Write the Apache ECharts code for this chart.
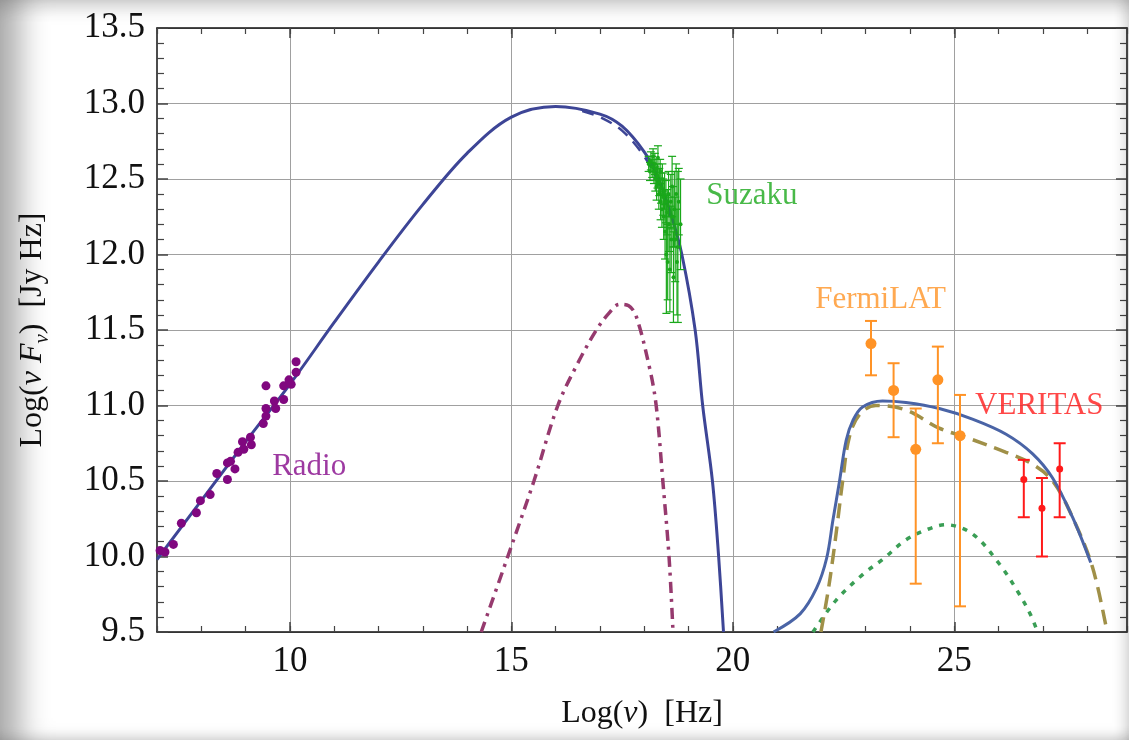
<!DOCTYPE html>
<html>
<head>
<meta charset="utf-8">
<script src="https://cdn.jsdelivr.net/npm/echarts@6.0.0/dist/echarts.min.js"></script>
<style>
  html, body { margin: 0; padding: 0; background: #fff; }
  #wrap { position: relative; width: 1129px; height: 740px; }
  #chart { width: 1129px; height: 740px; }
  #shade {
    position: absolute; left: 0; top: 0; width: 1129px; height: 740px; pointer-events: none;
    box-shadow: inset 34px 0 30px -14px rgba(0,0,0,0.33), inset 0 18px 18px -10px rgba(0,0,0,0.16),
                inset -12px 0 14px -8px rgba(0,0,0,0.18), inset 0 -12px 12px -8px rgba(0,0,0,0.12);
  }
</style>
</head>
<body>
<div id="wrap"><div id="chart"></div><div id="shade"></div></div>
<script>
// ---- axes ----
var xMajor = [10, 15, 20, 25];

// ---- model curves ----
// synchrotron + total (solid blue)
var syncX = [7, 8, 9, 10, 11, 12, 13, 14, 15, 16, 17, 17.5, 18, 18.3, 18.6, 18.85, 19.15, 19.32, 19.54, 19.68, 19.79];
var syncY = [9.98, 10.37, 10.76, 11.14, 11.55, 11.95, 12.33, 12.67, 12.91, 12.98, 12.93, 12.85, 12.68, 12.52, 12.27, 12.0, 11.5, 11.0, 10.5, 10.0, 9.5];
// synchrotron component (dashed, nearly on top of the total)
var syncDashX = [16.6, 17, 17.5, 18, 18.3, 18.6];
var syncDashY = [12.95, 12.91, 12.82, 12.65, 12.49, 12.25];
// dash-dot bump
var bumpX = [14.32, 14.92, 15.51, 16.05, 16.5, 16.92, 17.2, 17.44, 17.65, 17.82, 18.12, 18.27, 18.42, 18.56, 18.65];
var bumpY = [9.5, 10.0, 10.5, 11.0, 11.28, 11.5, 11.61, 11.67, 11.66, 11.59, 11.25, 11.0, 10.5, 10.0, 9.5];
// inverse compton total (solid blue)
var icX = [20.92, 21.52, 21.89, 22.12, 22.26, 22.41, 22.56, 22.71, 22.93, 23.38, 23.91, 24.66, 25.41, 26.17, 26.77, 27.22, 27.67, 28.08];
var icY = [9.5, 9.62, 9.79, 9.99, 10.24, 10.5, 10.77, 10.9, 10.99, 11.03, 11.02, 10.98, 10.91, 10.81, 10.68, 10.52, 10.26, 9.96];
// IC component (olive dashed)
var ic2X = [21.99, 22.14, 22.26, 22.37, 22.48, 22.63, 22.86, 23.23, 23.91, 24.66, 25.26, 26.17, 26.77, 27.22, 27.67, 28.12, 28.45];
var ic2Y = [9.5, 9.75, 9.99, 10.24, 10.5, 10.79, 10.94, 11.0, 10.97, 10.85, 10.79, 10.69, 10.61, 10.5, 10.26, 9.93, 9.5];
// IC component (green dotted)
var ic3X = [21.81, 22.33, 22.93, 23.38, 23.91, 24.4, 24.81, 25.41, 26.02, 26.47, 26.73, 26.88];
var ic3Y = [9.5, 9.71, 9.88, 9.98, 10.11, 10.18, 10.21, 10.15, 9.95, 9.75, 9.61, 9.5];

// ---- data points ----
var radioX = [7.07, 7.18, 7.37, 7.55, 7.89, 7.98, 8.2, 8.35, 8.59, 8.59, 8.66, 8.76, 8.83, 8.93, 8.96, 9.11, 9.13, 9.4, 9.46, 9.46, 9.46, 9.65, 9.68, 9.86, 9.86, 9.98, 10.03, 10.14, 10.14];
var radioY = [10.04, 10.03, 10.08, 10.22, 10.29, 10.37, 10.41, 10.55, 10.51, 10.62, 10.63, 10.58, 10.69, 10.76, 10.71, 10.79, 10.74, 10.88, 10.93, 10.98, 11.13, 11.03, 10.98, 11.04, 11.13, 11.17, 11.14, 11.22, 11.29];

var suzakuX = [18.1, 18.13, 18.15, 18.18, 18.2, 18.22, 18.24, 18.25, 18.27, 18.28, 18.3, 18.31, 18.33, 18.34, 18.36, 18.37, 18.38, 18.4, 18.41, 18.43, 18.44, 18.46, 18.47, 18.49, 18.5, 18.52, 18.53, 18.55, 18.56, 18.58, 18.6, 18.61, 18.63, 18.65, 18.66, 18.68, 18.7, 18.72, 18.74, 18.76, 18.78, 18.82];
var suzakuY = [12.6, 12.55, 12.62, 12.58, 12.65, 12.55, 12.6, 12.5, 12.57, 12.45, 12.52, 12.64, 12.4, 12.48, 12.55, 12.35, 12.44, 12.3, 12.5, 12.38, 12.25, 12.42, 12.15, 12.35, 12.0, 12.28, 11.95, 12.4, 12.2, 11.9, 12.35, 12.1, 12.45, 12.25, 11.85, 12.3, 12.1, 12.4, 11.95, 12.05, 12.35, 12.2];
var suzakuErr = [0.05, 0.06, 0.06, 0.07, 0.05, 0.08, 0.07, 0.08, 0.06, 0.09, 0.08, 0.08, 0.1, 0.09, 0.08, 0.12, 0.1, 0.12, 0.1, 0.12, 0.15, 0.12, 0.18, 0.14, 0.39, 0.15, 0.25, 0.15, 0.18, 0.28, 0.18, 0.22, 0.2, 0.2, 0.3, 0.25, 0.28, 0.2, 0.35, 0.5, 0.22, 0.3];

var fermiX = [23.12, 23.63, 24.13, 24.63, 25.13];
var fermiY = [11.41, 11.1, 10.71, 11.17, 10.8];
var fermiLo = [11.2, 10.79, 9.82, 10.75, 9.67];
var fermiHi = [11.56, 11.28, 10.98, 11.39, 11.07];

var veritasX = [26.57, 26.98, 27.38];
var veritasY = [10.51, 10.32, 10.58];
var veritasLo = [10.26, 10.0, 10.26];
var veritasHi = [10.64, 10.52, 10.75];

var SERIF = '"Liberation Serif", "DejaVu Serif", serif';

function zip(xs, ys) {
    var out = [];
    for (var i = 0; i < xs.length; i++) out.push([xs[i], ys[i]]);
    return out;
}
function errData(xs, ys, lo, hi) {
    var out = [];
    for (var i = 0; i < xs.length; i++) out.push([xs[i], ys[i], lo[i], hi[i]]);
    return out;
}
var suzakuLo = [], suzakuHi = [];
for (var i = 0; i < suzakuX.length; i++) {
    suzakuLo.push(suzakuY[i] - suzakuErr[i]);
    suzakuHi.push(suzakuY[i] + suzakuErr[i]);
}

function errBars(color, cap, width) {
    return function (params, api) {
        var x = api.value(0);
        var top = api.coord([x, api.value(3)]);
        var bot = api.coord([x, api.value(2)]);
        var st = { stroke: color, lineWidth: width };
        return {
            type: 'group',
            children: [
                { type: 'line', shape: { x1: top[0], y1: top[1], x2: bot[0], y2: bot[1] }, style: st },
                { type: 'line', shape: { x1: top[0] - cap, y1: top[1], x2: top[0] + cap, y2: top[1] }, style: st },
                { type: 'line', shape: { x1: bot[0] - cap, y1: bot[1], x2: bot[0] + cap, y2: bot[1] }, style: st }
            ]
        };
    };
}

function curve(name, xs, ys, color, width, type) {
    return {
        name: name, type: 'line', data: zip(xs, ys), smooth: 0.35, symbol: 'none', clip: true,
        lineStyle: { color: color, width: width, type: type || 'solid' }, z: 3
    };
}

function textMark(text, x, y, color) {
    return {
        type: 'scatter', data: [[x, y]], symbolSize: 0, silent: true, z: 10,
        label: {
            show: true, position: 'right', distance: 0, formatter: text,
            color: color, fontFamily: SERIF, fontSize: 31
        }
    };
}

var lineCol = '#111';
var gridCol = '#a0a0a0';
var chart = echarts.init(document.getElementById('chart'));

var option = {
    backgroundColor: 'transparent',
    animation: false,
    grid: { left: 157, right: 2, top: 28, bottom: 108 },
    xAxis: [{
        type: 'value', min: 7, max: 28.9, position: 'bottom',
        axisLine: { show: true, lineStyle: { color: lineCol, width: 1.5 } },
        axisTick: { show: true, inside: true, length: 10, customValues: xMajor, lineStyle: { color: '#444', width: 1.5 } },
        axisLabel: { show: true, customValues: xMajor, margin: 12, color: '#111', fontFamily: SERIF, fontSize: 35 },
        splitLine: { show: true, lineStyle: { color: gridCol, width: 1 } },
        name: '{a|Log(}{i|ν}{a|)  [Hz]}', nameLocation: 'middle', nameGap: 66,
        nameTextStyle: { rich: {
            a: { fontFamily: SERIF, fontSize: 32, color: '#111' },
            i: { fontFamily: SERIF, fontSize: 32, color: '#111', fontStyle: 'italic' }
        } }
    }, {
        type: 'value', min: 7, max: 28.9, interval: 1, position: 'bottom',
        axisLine: { show: false },
        axisTick: { show: true, inside: true, length: 6, lineStyle: { color: '#444', width: 1.2 } },
        axisLabel: { show: false }, splitLine: { show: false }
    }, {
        type: 'value', min: 7, max: 28.9, interval: 1, position: 'top',
        axisLine: { show: true, lineStyle: { color: lineCol, width: 1.5 } },
        axisTick: { show: true, inside: true, length: 6, lineStyle: { color: '#444', width: 1.2 } },
        axisLabel: { show: false }, splitLine: { show: false }
    }, {
        type: 'value', min: 7, max: 28.9, position: 'top',
        axisLine: { show: false },
        axisTick: { show: true, inside: true, length: 10, customValues: xMajor, lineStyle: { color: '#444', width: 1.5 } },
        axisLabel: { show: false }, splitLine: { show: false }
    }],
    yAxis: [{
        type: 'value', min: 9.5, max: 13.5, interval: 0.5, position: 'left',
        axisLine: { show: true, lineStyle: { color: lineCol, width: 1.5 } },
        axisTick: { show: true, inside: true, length: 11, lineStyle: { color: '#444', width: 1.5 } },
        minorTick: { show: true, splitNumber: 5, length: 7, lineStyle: { color: '#444', width: 1.2 } },
        axisLabel: {
            margin: 12, color: '#111', fontFamily: SERIF, fontSize: 35,
            formatter: function (v) { return v.toFixed(1); }
        },
        splitLine: { show: true, lineStyle: { color: gridCol, width: 1 } },
        name: '{a|Log(}{i|ν F}{s|ν}{a|)  [Jy Hz]}', nameLocation: 'middle', nameGap: 104, nameRotate: 90,
        nameTextStyle: { rich: {
            a: { fontFamily: SERIF, fontSize: 32, color: '#111', lineHeight: 40 },
            i: { fontFamily: SERIF, fontSize: 32, color: '#111', fontStyle: 'italic', lineHeight: 40 },
            s: { fontFamily: SERIF, fontSize: 21, color: '#111', fontStyle: 'italic', lineHeight: 40, verticalAlign: 'bottom', padding: [12, 0, 0, 0] }
        } }
    }, {
        type: 'value', min: 9.5, max: 13.5, interval: 0.5, position: 'right',
        axisLine: { show: true, lineStyle: { color: lineCol, width: 1.5 } },
        axisTick: { show: true, inside: true, length: 11, lineStyle: { color: '#444', width: 1.5 } },
        minorTick: { show: true, splitNumber: 5, length: 7, lineStyle: { color: '#444', width: 1.2 } },
        axisLabel: { show: false }, splitLine: { show: false }
    }],
    series: [
        curve('bump', bumpX, bumpY, '#963a6e', 3.5, [11, 6, 3, 6]),
        curve('ic3', ic3X, ic3Y, '#3a9e55', 3.5, [5, 7]),
        curve('ic2', ic2X, ic2Y, '#a09048', 3.5, [15, 8]),
        curve('ic', icX, icY, '#4a64a6', 3),
        curve('syncDash', syncDashX, syncDashY, '#3d4596', 2.5, [12, 8]),
        curve('sync', syncX, syncY, '#3d4596', 3),
        {
            name: 'suzakuErr', type: 'custom', renderItem: errBars('#1aa81a', 4, 1.2),
            data: errData(suzakuX, suzakuY, suzakuLo, suzakuHi), z: 4
        },
        {
            name: 'suzaku', type: 'scatter', data: zip(suzakuX, suzakuY), symbolSize: 4,
            itemStyle: { color: '#1aa81a', opacity: 1 }, z: 4
        },
        {
            name: 'radio', type: 'scatter', data: zip(radioX, radioY), symbolSize: 9,
            itemStyle: { color: '#80077f', opacity: 1 }, z: 4
        },
        {
            name: 'fermiErr', type: 'custom', renderItem: errBars('#ff9326', 6, 2),
            data: errData(fermiX, fermiY, fermiLo, fermiHi), z: 5
        },
        {
            name: 'fermi', type: 'scatter', data: zip(fermiX, fermiY), symbolSize: 11,
            itemStyle: { color: '#ff9326', opacity: 1 }, z: 5
        },
        {
            name: 'veritasErr', type: 'custom', renderItem: errBars('#ff1a1a', 6, 2),
            data: errData(veritasX, veritasY, veritasLo, veritasHi), z: 5
        },
        {
            name: 'veritas', type: 'scatter', data: zip(veritasX, veritasY), symbolSize: 7,
            itemStyle: { color: '#ff1a1a', opacity: 1 }, z: 5
        },
        textMark('Radio', 9.6, 10.595, '#85088a'),
        textMark('Suzaku', 19.4, 12.39, '#1aa81a'),
        textMark('FermiLAT', 21.86, 11.697, '#ff9326'),
        textMark('VERITAS', 25.47, 11.0, '#ff1a1a')
    ]
};
chart.setOption(option);
</script>
</body>
</html>
